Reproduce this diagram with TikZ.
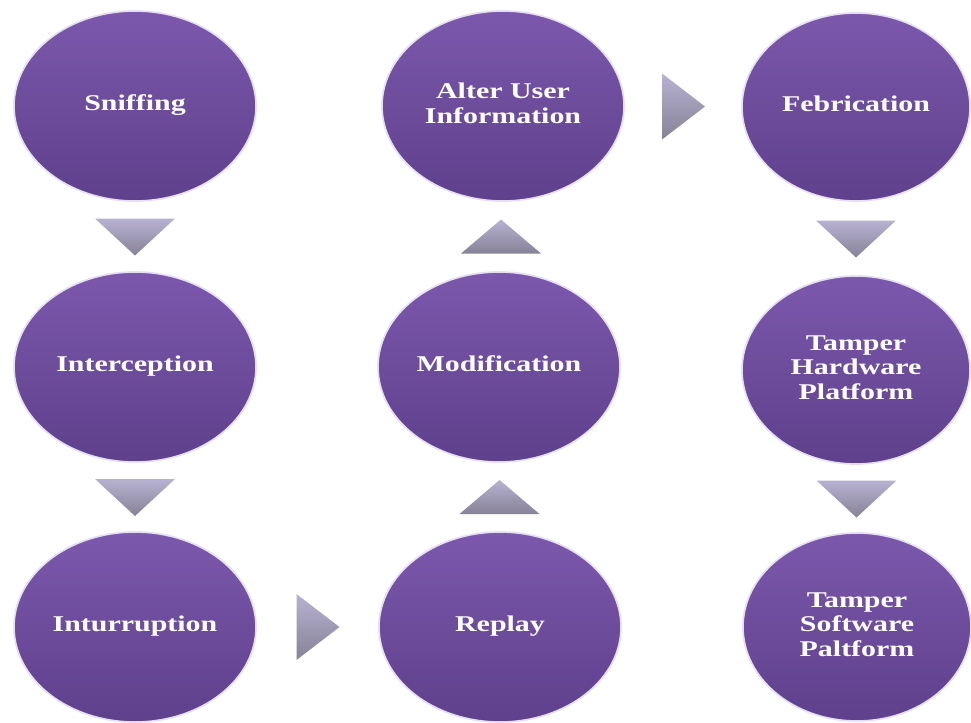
\documentclass[tikz,border=0pt]{standalone}
\usepackage{fontspec}
\setmainfont{Liberation Serif}
\usepackage{graphicx}
\usetikzlibrary{shapes.geometric}

\definecolor{purptop}{RGB}{124,88,172}
\definecolor{purpbot}{RGB}{94,64,140}
\definecolor{tritop}{RGB}{184,178,210}
\definecolor{tribot}{RGB}{134,130,150}
\definecolor{glow}{RGB}{230,222,242}

\newcommand{\stagetext}[1]{\scalebox{1.33}[1]{\begin{tabular}{@{}c@{}}#1\end{tabular}}}

\tikzset{
  stage/.style={ellipse, inner sep=0pt, minimum width=6.05cm, minimum height=4.75cm,
    top color=purptop, bottom color=purpbot, draw=glow, line width=1.2pt,
    text=white, font=\fontsize{16}{17.5}\selectfont\bfseries},
  narrow/.style={minimum width=5.7cm, minimum height=4.7cm},
  pics/downtri/.style={code={\shade[top color=tritop, bottom color=tribot] (-40,-18) -- (40,-18) -- (0,19) -- cycle;}},
  pics/uptri/.style={code={\shade[top color=tritop, bottom color=tribot] (-40,17) -- (40,17) -- (0,-17) -- cycle;}},
  pics/righttri/.style={code={\shade[top color=tritop, bottom color=tribot] (-21,-33) -- (-21,33) -- (22,0) -- cycle;}},
}

\begin{document}
\begin{tikzpicture}[x=0.025cm, y=-0.025cm]

        \useasboundingbox (0,0) rectangle (971,722);

        % first column
        \node[stage] (sniff) at (135,106) {\stagetext{Sniffing}};
        \node[stage] (inter) at (135,367) {\stagetext{Interception}};
        \node[stage] (inturr) at (135,627) {\stagetext{Inturruption}};

        % second column
        \node[stage] (replay) at (500,627) {\stagetext{Replay}};
        \node[stage] (modif) at (499,367) {\stagetext{Modification}};
        \node[stage] (alter) at (503,106) {\stagetext{Alter User\\Information}};

        % third column
        \node[stage, narrow] (febr) at (856,107) {\stagetext{Febrication}};
        \node[stage, narrow] (hardw) at (856,370) {\stagetext{Tamper\\Hardware\\Platform}};
        \node[stage, narrow] (softw) at (857,627) {\stagetext{Tamper\\Software\\Paltform}};

        % triangles
        \path (sniff) -- pic[pos=.5] {downtri} (inter);
        \path (inter) -- pic[pos=.5] {downtri} (inturr);
        \path (inturr) -- pic[pos=.5] {righttri} (replay);
        \path (replay) -- pic[pos=.5] {uptri} (modif);
        \path (modif) -- pic[pos=.5] {uptri} (alter);
        \path (alter) -- pic[pos=.5] {righttri} (febr);
        \path (febr) -- pic[pos=.5] {downtri} (hardw);
        \path (hardw) -- pic[pos=.5] {downtri} (softw);

\end{tikzpicture}
\end{document}
